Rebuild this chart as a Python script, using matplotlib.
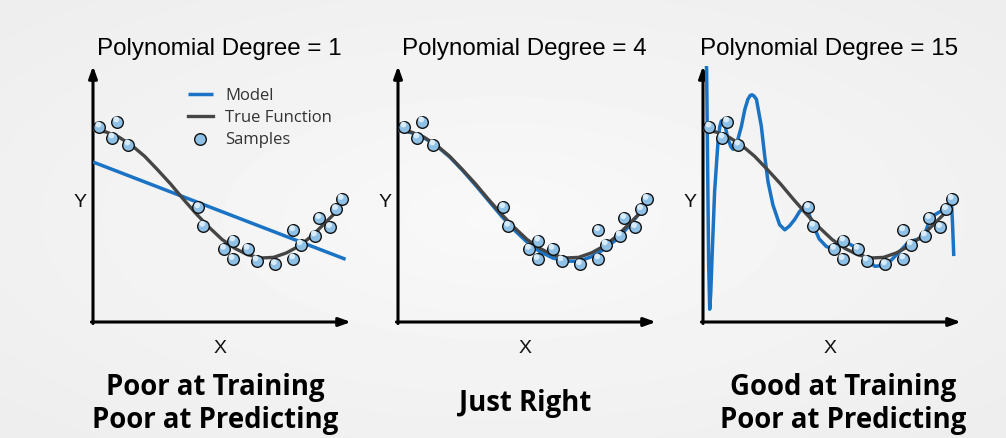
import numpy as np
import matplotlib
matplotlib.use("Agg")
import matplotlib.pyplot as plt

# ---------------- data ----------------
titles = ["Polynomial Degree = 1", "Polynomial Degree = 4", "Polynomial Degree = 15"]
captions = ["Poor at Training\nPoor at Predicting", "Just Right", "Good at Training\nPoor at Predicting"]

sample_x = [0.025, 0.094, 0.075, 0.137, 0.408, 0.427, 0.508, 0.544, 0.541, 0.599,
            0.634, 0.705, 0.776, 0.776, 0.805, 0.860, 0.877, 0.919, 0.942, 0.964]
sample_y = [1.05, 1.13, 0.88, 0.77, -0.21, -0.50, -0.86, -0.73, -1.02, -0.86,
            -1.04, -1.10, -0.57, -1.01, -0.79, -0.65, -0.38, -0.52, -0.24, -0.08]

true_x = [0.00, 0.05, 0.10, 0.15, 0.20, 0.25, 0.30, 0.35, 0.40, 0.45,
          0.50, 0.55, 0.60, 0.65, 0.70, 0.75, 0.80, 0.85, 0.90, 0.945]
true_y = [1.00, 0.97, 0.89, 0.76, 0.59, 0.38, 0.16, -0.08, -0.31, -0.52,
          -0.71, -0.85, -0.95, -1.00, -0.99, -0.92, -0.81, -0.65, -0.45, -0.27]

deg1_x = [0.0, 0.979]
deg1_y = [0.50, -1.02]

deg4_x = [0.00, 0.05, 0.10, 0.15, 0.20, 0.25, 0.30, 0.35, 0.40, 0.45,
          0.50, 0.55, 0.60, 0.65, 0.70, 0.75, 0.80, 0.85, 0.90, 0.93, 0.965]
deg4_y = [1.00, 0.96, 0.88, 0.75, 0.58, 0.37, 0.14, -0.10, -0.34, -0.56,
          -0.75, -0.90, -1.00, -1.05, -1.05, -0.98, -0.86, -0.70, -0.48, -0.33, -0.10]

deg15_x = [0.012, 0.014, 0.019, 0.022, 0.026, 0.030, 0.035, 0.045, 0.058, 0.065,
           0.071, 0.078, 0.084, 0.097, 0.108, 0.116, 0.125, 0.137, 0.149, 0.162,
           0.174, 0.183, 0.190, 0.198, 0.207, 0.226, 0.239, 0.252, 0.271, 0.297,
           0.317, 0.335, 0.355, 0.375, 0.394, 0.410, 0.426, 0.450, 0.478, 0.510,
           0.535, 0.562, 0.590, 0.627, 0.666, 0.711, 0.750, 0.788, 0.820, 0.853,
           0.866, 0.879, 0.900, 0.917, 0.935, 0.950, 0.958, 0.963, 0.967, 0.972]
deg15_y = [2.10, 1.94, 0.04, -1.10, -1.80, -1.55, -1.00, 0.04, 0.81, 1.05,
           1.14, 1.15, 1.09, 0.86, 0.74, 0.70, 0.75, 0.88, 1.06, 1.32,
           1.48, 1.54, 1.55, 1.53, 1.48, 1.06, 0.60, 0.19, -0.17, -0.48,
           -0.56, -0.50, -0.40, -0.27, -0.20, -0.30, -0.48, -0.70, -0.82, -0.87,
           -0.80, -0.77, -0.83, -1.00, -1.13, -1.11, -0.95, -0.79, -0.72, -0.69,
           -0.55, -0.40, -0.32, -0.28, -0.24, -0.20, -0.15, -0.12, -0.45, -0.97]

model_x = [deg1_x, deg4_x, deg15_x]
model_y = [deg1_y, deg4_y, deg15_y]

# ---------------- style ----------------
BLUE = "#1a73c4"
GRAY = "#454545"
W, H = 1006, 439
fig = plt.figure(figsize=(W / 100, H / 100), dpi=100)

title_font = ["Liberation Sans", "DejaVu Sans"]
cap_font = ["Open Sans", "DejaVu Sans"]

# subtle radial background
bg = fig.add_axes([0, 0, 1, 1], zorder=-10)
gx, gy = np.meshgrid(np.linspace(-1, 1, 200), np.linspace(-1, 1, 100))
r = np.sqrt(gx ** 2 + gy ** 2)
bg.imshow(0.975 - 0.045 * np.clip(r, 0, 1.4) / 1.4, cmap="gray", vmin=0, vmax=1,
          aspect="auto", extent=[0, 1, 0, 1], interpolation="bilinear")
bg.set_axis_off()

lefts = [93, 398, 703]
ax_w, ax_bottom, ax_top = 258, 323, 67


def fx(px):
    return px / W


def fy(py):
    return 1 - py / H


tsize = 17.4
lsize = 14

for i in range(3):
    L = lefts[i]
    ax = fig.add_axes([fx(L), fy(ax_bottom), ax_w / W, (ax_bottom - ax_top) / H])
    ax.set_xlim(0, 1)
    ax.set_ylim(-2, 2)
    ax.patch.set_alpha(0)
    for s in ax.spines.values():
        s.set_visible(False)
    ax.set_xticks([])
    ax.set_yticks([])

    ax.annotate("", xy=(1.0, 0), xytext=(-0.006, 0), xycoords="axes fraction",
                arrowprops=dict(arrowstyle="-|>,head_length=0.7,head_width=0.25",
                                lw=2.2, color="black", shrinkA=0, shrinkB=0),
                annotation_clip=False)
    ax.annotate("", xy=(0, 1.0), xytext=(0, -0.006), xycoords="axes fraction",
                arrowprops=dict(arrowstyle="-|>,head_length=0.7,head_width=0.25",
                                lw=2.2, color="black", shrinkA=0, shrinkB=0),
                annotation_clip=False)

    ax.plot(model_x[i], model_y[i], color=BLUE, lw=2.5, label="Model",
            solid_capstyle="butt", solid_joinstyle="round", zorder=3)
    ax.plot(true_x, true_y, color=GRAY, lw=2.4, label="True Function", zorder=4)
    ax.scatter(sample_x, sample_y, s=70, facecolor="#8fc0e6", edgecolor="#111111",
               linewidth=1.0, zorder=5, label="Samples")
    ax.scatter(np.array(sample_x) - 0.004, np.array(sample_y) + 0.035, s=18,
               facecolor="#d8ebf8", edgecolor="none", zorder=6)

    if i == 0:
        ax.legend(loc="upper left", bbox_to_anchor=(0.31, 0.975), frameon=False,
                  prop={"family": cap_font, "size": 12}, handlelength=1.5,
                  handletextpad=0.75, labelspacing=0.36, labelcolor="#333333")

    cx = L + ax_w / 2
    fig.text(fx(cx - 3), fy(48.5), titles[i], ha="center", va="center",
             family=title_font, fontsize=tsize, color="black")
    fig.text(fx(L - 13), fy(203), "Y", ha="center", va="center",
             family=title_font, fontsize=lsize, color="#111111")
    fig.text(fx(cx - 2), fy(349), "X", ha="center", va="center",
             family=title_font, fontsize=lsize, color="#111111")

cap_x = [215, 525, 843]
for i in range(3):
    fig.text(fx(cap_x[i]), fy(404), captions[i], ha="center", va="center",
             family=cap_font, fontsize=19.8, fontweight="bold", color="black",
             linespacing=1.17)

fig.savefig("out.png", dpi=100)
